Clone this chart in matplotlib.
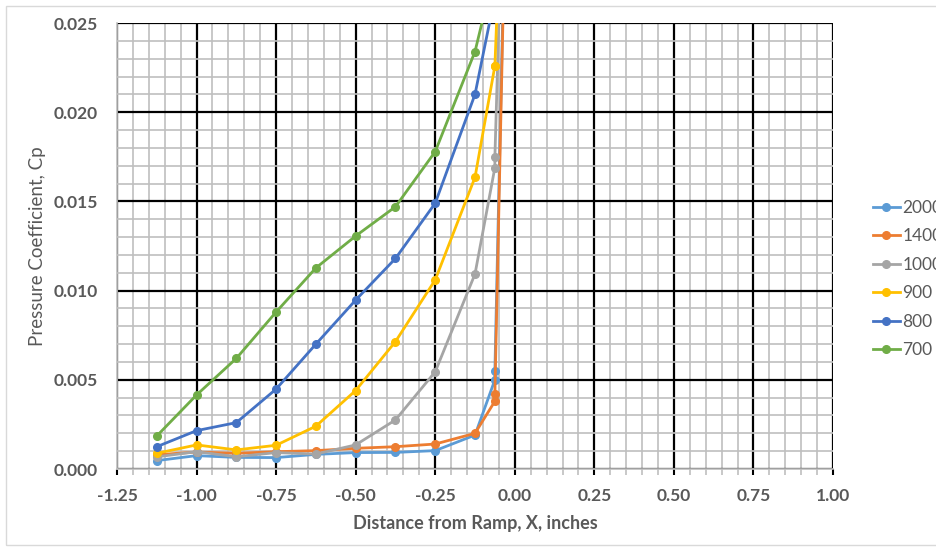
import matplotlib.pyplot as plt
import numpy as np
from matplotlib.ticker import MultipleLocator, FormatStrFormatter

plt.rcParams['font.family'] = ['Lato', 'DejaVu Sans']

# x positions (inches from ramp), shared by all runs
x = [-1.125, -1.0, -0.875, -0.75, -0.625, -0.5, -0.375, -0.25, -0.125, -0.0625, -0.0625, 0.0]

labels = ['2000', '1400', '1000', '900', '800', '700']
cp_2000 = [0.00047, 0.00075, 0.00065, 0.00064, 0.00082, 0.00092, 0.00093, 0.00103, 0.0019, 0.0050, 0.0055, 0.056]
cp_1400 = [0.00080, 0.00095, 0.00088, 0.00097, 0.00103, 0.00116, 0.00125, 0.0014, 0.0020, 0.0038, 0.0042, 0.056]
cp_1000 = [0.00068, 0.00097, 0.00069, 0.00092, 0.00084, 0.00135, 0.00275, 0.00545, 0.01093, 0.0169, 0.0175, 0.055]
cp_900 = [0.00088, 0.00135, 0.00107, 0.00133, 0.0024, 0.0044, 0.00714, 0.0106, 0.01635, 0.0226, 0.0226, 0.051]
cp_800 = [0.00125, 0.00215, 0.0026, 0.00448, 0.0070, 0.00947, 0.0118, 0.0149, 0.0210, 0.0265, 0.027, 0.05]
cp_700 = [0.00185, 0.00415, 0.0062, 0.0088, 0.01127, 0.01306, 0.0147, 0.01779, 0.0234, 0.028, 0.029, 0.05]
series = [cp_2000, cp_1400, cp_1000, cp_900, cp_800, cp_700]
colors = ['#5B9BD5', '#ED7D31', '#A5A5A5', '#FFC000', '#4472C4', '#70AD47']

fig = plt.figure(figsize=(9.36, 5.48), dpi=100)
ax = fig.add_axes([117/936, 1-469/548, (833-117)/936, (469-23)/548])

for y, c, lab in zip(series, colors, labels):
    ax.plot(x, y, color=c, lw=2, marker='o', ms=5.5, label=lab, zorder=3)

ax.set_xlim(-1.25, 1.0)
ax.set_ylim(0, 0.025)
ax.xaxis.set_major_locator(MultipleLocator(0.25))
ax.xaxis.set_minor_locator(MultipleLocator(0.05))
ax.yaxis.set_major_locator(MultipleLocator(0.005))
ax.yaxis.set_minor_locator(MultipleLocator(0.001))
ax.xaxis.set_major_formatter(FormatStrFormatter('%.2f'))
ax.yaxis.set_major_formatter(FormatStrFormatter('%.3f'))

ax.grid(which='major', color='black', lw=1.6, zorder=1)
ax.grid(which='minor', color='#BFBFBF', lw=1.2, zorder=0)
ax.set_axisbelow(True)
for s in ['top', 'right']:
    ax.spines[s].set_visible(False)
for s in ['left', 'bottom']:
    ax.spines[s].set_color('#BFBFBF')
    ax.spines[s].set_linewidth(1.2)

ax.tick_params(axis='x', which='major', length=4, width=1.5, color='black', pad=10)
ax.tick_params(axis='x', which='minor', length=4, width=1.2, color='#BFBFBF')
ax.tick_params(axis='y', which='both', length=0, pad=13.5)
ax.tick_params(which='major', labelsize=12.5, labelcolor='#595959')
for t in ax.get_xticklabels() + ax.get_yticklabels():
    t.set_fontweight('bold')

ax.set_xlabel('Distance from Ramp, X, inches', fontsize=13, fontweight='bold', color='#595959')
ax.set_ylabel('Pressure Coefficient, Cp', fontsize=13.5, color='#595959')
ax.xaxis.set_label_coords(0.5, (469-523)/446)
ax.xaxis.label.set_verticalalignment('center')
ax.yaxis.set_label_coords((38-117)/716, 0.5)
ax.yaxis.label.set_verticalalignment('center')

fig.legend(loc='upper left', bbox_to_anchor=(866/936, 1-193/548), frameon=False,
           fontsize=12.5, labelcolor='#595959', handlelength=1.55, handletextpad=0.15,
           labelspacing=0.72, borderaxespad=0)

# light outer border of the chart area
fig.patches.append(plt.Rectangle((6/936, 0.005), 1, 1-6/548-0.005, transform=fig.transFigure,
                                 fill=False, edgecolor='#D9D9D9', lw=1))

plt.savefig('out.png', dpi=100)
